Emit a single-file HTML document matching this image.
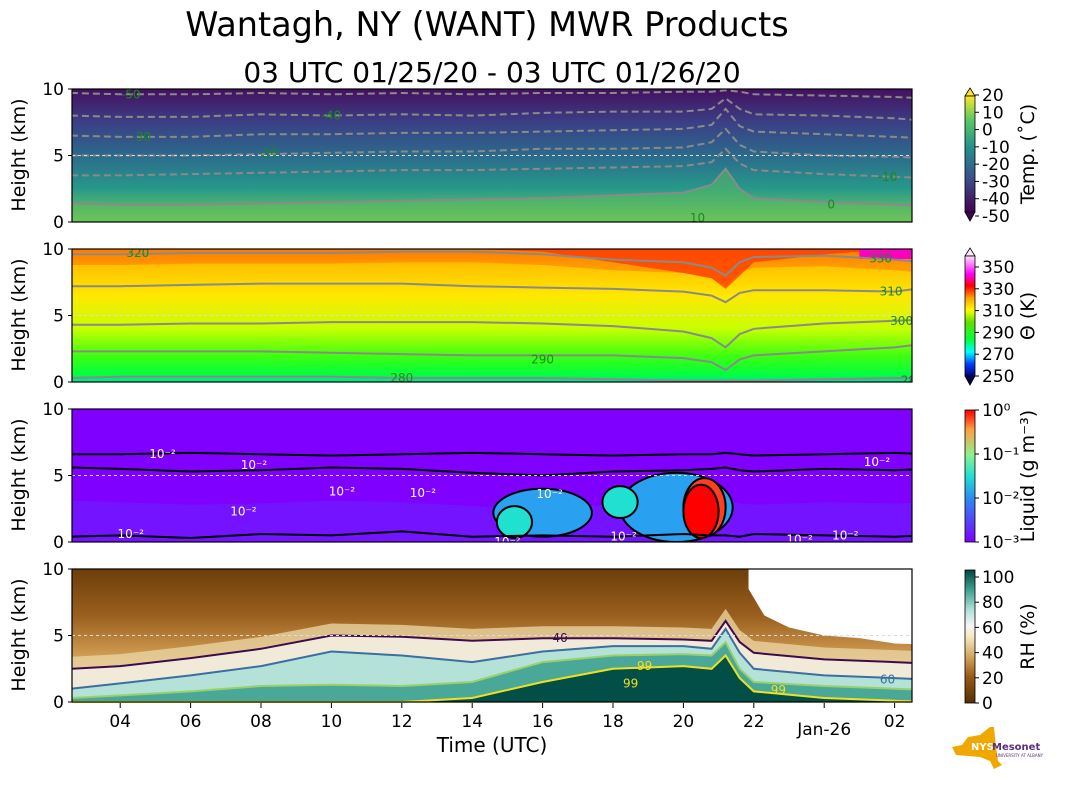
<!DOCTYPE html>
<html><head><meta charset="utf-8"><style>
body{margin:0;background:#fff;}
svg text{font-family:"DejaVu Sans","Liberation Sans",sans-serif;}
</style></head><body>
<svg id="chart" width="1066" height="806" viewBox="0 0 1066 806" xmlns="http://www.w3.org/2000/svg">
<defs>
<linearGradient id="gTemp" x1="0" y1="0" x2="0" y2="1">
<stop offset="0" stop-color="#45105f"/><stop offset="0.25" stop-color="#3b3f85"/><stop offset="0.5" stop-color="#2c6a8c"/><stop offset="0.75" stop-color="#27998a"/><stop offset="1" stop-color="#7ccc52"/></linearGradient>
<linearGradient id="gTheta" x1="0" y1="0" x2="0" y2="1">
<stop offset="0" stop-color="#ff9000"/><stop offset="0.12" stop-color="#ffc000"/><stop offset="0.35" stop-color="#ffe800"/><stop offset="0.6" stop-color="#c8ff00"/><stop offset="0.8" stop-color="#40ff10"/><stop offset="0.95" stop-color="#00ff40"/><stop offset="1" stop-color="#00e0a0"/></linearGradient>
<linearGradient id="cbTemp" x1="0" y1="1" x2="0" y2="0">
<stop offset="0" stop-color="#440154"/><stop offset="0.3" stop-color="#3b528b"/><stop offset="0.55" stop-color="#21908d"/><stop offset="0.8" stop-color="#5dc963"/><stop offset="1" stop-color="#fde725"/></linearGradient>
<linearGradient id="cbTheta" x1="0" y1="1" x2="0" y2="0">
<stop offset="0" stop-color="#000080"/><stop offset="0.1" stop-color="#0040ff"/><stop offset="0.2" stop-color="#00ffff"/><stop offset="0.3" stop-color="#00ff40"/><stop offset="0.45" stop-color="#60e000"/><stop offset="0.55" stop-color="#ffff00"/><stop offset="0.65" stop-color="#ffa000"/><stop offset="0.75" stop-color="#ff0000"/><stop offset="0.85" stop-color="#ff00ff"/><stop offset="1" stop-color="#ffe0ff"/></linearGradient>
<linearGradient id="cbLiq" x1="0" y1="1" x2="0" y2="0">
<stop offset="0" stop-color="#7f00ff"/><stop offset="0.33" stop-color="#2b8cf0"/><stop offset="0.5" stop-color="#20e0d0"/><stop offset="0.66" stop-color="#90f090"/><stop offset="0.85" stop-color="#ffa040"/><stop offset="1" stop-color="#ff0000"/></linearGradient>
<linearGradient id="cbRH" x1="0" y1="1" x2="0" y2="0">
<stop offset="0" stop-color="#543005"/><stop offset="0.2" stop-color="#9a5a14"/><stop offset="0.35" stop-color="#d2a660"/><stop offset="0.5" stop-color="#f6e8c3"/><stop offset="0.58" stop-color="#f5f5f5"/><stop offset="0.7" stop-color="#b0e0d8"/><stop offset="0.85" stop-color="#40a090"/><stop offset="1" stop-color="#01463e"/></linearGradient>
<linearGradient id="gRHtop" x1="0" y1="0" x2="0" y2="1">
<stop offset="0" stop-color="#6b3e0a"/><stop offset="0.35" stop-color="#9a5f1e"/><stop offset="0.6" stop-color="#c8924a"/><stop offset="0.85" stop-color="#e8cc90"/><stop offset="1" stop-color="#f6ecd4"/></linearGradient>
<clipPath id="c1"><rect x="72" y="89" width="840" height="133"/></clipPath>
<clipPath id="c2"><rect x="72" y="249" width="840" height="133"/></clipPath>
<clipPath id="c3"><rect x="72" y="409" width="840" height="133"/></clipPath>
<clipPath id="c4"><rect x="72" y="569" width="840" height="134"/></clipPath>
</defs>
<text x="487" y="36" font-size="33.5" text-anchor="middle">Wantagh, NY (WANT) MWR Products</text>
<text x="492" y="82" font-size="28" text-anchor="middle">03 UTC 01/25/20 - 03 UTC 01/26/20</text>
<g id="plots"></g>
</svg>
<script>
// ---- data ----
const times=[2.6,4,6,8,10,12,14,16,18,20,20.8,21.2,21.6,22,24,26,26.9];
const tempLevels=["-50","-40","-30","-20","-10","0"];
const tempM50=[9.7,9.6,9.6,9.7,9.6,9.7,9.6,9.7,9.7,9.8,9.8,9.9,9.8,9.6,9.5,9.4,9.3];
const tempM40=[8.0,7.9,7.9,8.1,8.0,8.1,8.0,8.2,8.3,8.3,8.5,9.3,8.5,8.1,8.0,7.8,7.6];
const tempM30=[6.5,6.4,6.4,6.6,6.6,6.7,6.7,6.8,6.9,7.0,7.3,8.5,7.2,6.8,6.6,6.4,6.3];
const tempM20=[5.0,5.0,5.0,5.1,5.2,5.3,5.3,5.5,5.5,5.6,6.0,7.0,5.8,5.3,5.0,4.9,4.8];
const tempM10=[3.5,3.5,3.6,3.7,3.8,3.9,3.9,4.0,4.1,4.2,4.5,5.5,4.4,3.9,3.6,3.4,3.3];
const temp0=[1.4,1.3,1.3,1.4,1.5,1.6,1.7,1.8,2.0,2.2,2.8,4.0,2.5,1.8,1.5,1.3,1.2];
const theta280=[0.3,0.4,0.4,0.4,0.4,0.3,0.3,0.3,0.2,0.1,0.1,0.1,0.1,0.1,0.2,0.3,0.3];
const theta290=[2.3,2.3,2.3,2.3,2.2,2.1,2.0,2.0,2.0,1.8,1.5,0.9,1.7,2.0,2.3,2.6,2.9];
const theta300=[4.3,4.3,4.4,4.4,4.5,4.5,4.5,4.4,4.2,3.8,3.3,2.6,3.6,4.0,4.4,4.6,4.7];
const theta310=[7.2,7.2,7.3,7.4,7.4,7.4,7.2,7.1,7.0,6.8,6.5,6.0,6.7,6.9,6.9,6.8,7.1];
const theta320=[9.6,9.6,9.7,9.7,9.7,9.8,9.8,9.6,9.2,9.0,8.6,8.0,9.0,9.4,9.5,9.2,9.0];
const thetaRed=[10,10,10,10,10,10,10,9.8,9.0,8.2,7.8,7.0,8.0,9.0,9.6,10,10];
const liqLine1=[6.6,6.6,6.7,6.6,6.5,6.6,6.7,6.6,6.5,6.6,6.6,6.7,6.6,6.5,6.6,6.7,6.6];
const liqLine2=[5.6,5.5,5.3,5.4,5.6,5.5,5.2,5.0,5.3,5.4,5.5,5.6,5.4,5.3,5.5,5.4,5.5];
const liqLine3=[0.4,0.5,0.3,0.6,0.5,0.8,0.4,0.5,0.4,0.6,0.5,0.5,0.4,0.6,0.5,0.4,0.5];
const blobT=[16.0,15.2,19.8,20.6,20.5,18.2];
const blobH=[2.2,1.5,2.6,2.6,2.3,3.0];
const blobW=[1.4,0.5,1.6,0.6,0.5,0.5];
const blobHt=[1.8,1.2,2.6,2.2,2.0,1.2];
const blobLevel=[1,2,1,3,4,2];
const rh40=[2.5,2.7,3.3,4.0,5.0,4.9,4.6,4.8,4.8,4.7,4.6,6.1,4.5,3.7,3.2,3.0,2.9];
const rh60=[1.0,1.4,2.0,2.7,3.8,3.5,3.0,3.8,4.2,4.2,4.0,5.5,3.7,2.5,2.0,1.8,1.7];
const rh80=[0.3,0.5,0.8,1.2,1.3,1.2,1.5,3.0,3.5,3.6,3.5,4.5,2.5,1.5,1.2,1.0,0.9];
const rh99=[0,0,0,0,0,0,0.3,1.5,2.5,2.7,2.5,3.5,1.8,0.8,0.3,0.1,0];
const missT=[21.85,22.3,23,24,25,26,26.95];
const missH=[8.5,6.5,5.6,5.0,4.8,4.4,4.3];
const xTicks=[4,6,8,10,12,14,16,18,20,22,24,26];
const xTickLabels=["04","06","08","10","12","14","16","18","20","22","Jan-26","02"];
const yTicks=[0,5,10];
// ---- scales ----
const NS="http://www.w3.org/2000/svg";
const X0=72,X1=912;
function px(t){return 85+(t-3)*35.2;}
const panels=[{top:89,name:"temperature"},{top:249,name:"theta"},{top:409,name:"liquid"},{top:569,name:"rh"}];
function py(h,p){return panels[p].top+133-h*13.3;}
const root=document.getElementById('plots');
function mk(tag,attrs,parent){const e=document.createElementNS(NS,tag);for(const k in attrs)e.setAttribute(k,attrs[k]);(parent||root).appendChild(e);return e;}
function linePts(arr,p){return times.map((t,i)=>px(t).toFixed(1)+","+py(arr[i],p).toFixed(1)).join(" ");}
function bandPts(upper,lower,p){let a=times.map((t,i)=>px(t)+","+py(upper[i],p));let b=times.slice().reverse().map((t,j)=>{const i=times.length-1-j;return px(t)+","+py(lower?lower[i]:0,p);});return a.concat(b).join(" ");}
const tens=times.map(()=>10);

// Panel 1
let g=mk('g',{'clip-path':'url(#c1)'});

let e=mk('rect',{x:X0,y:89,width:840,height:133,fill:'url(#gTemp)'},g);

e=mk('polygon',{points:bandPts(temp0,null,0),fill:'#5cbc60',opacity:0.5},g);

[tempM50,tempM40,tempM30,tempM20,tempM10].forEach((arr,k)=>{
 const l=mk('polyline',{points:linePts(arr,0),fill:'none',stroke:'#8a8a8a','stroke-width':2,'stroke-dasharray':'7,4'},g);
 
});
e=mk('polyline',{points:linePts(temp0,0),fill:'none',stroke:'#8a8a8a','stroke-width':2},g);

[["-50",4.3,tempM50],["-40",10,tempM40],["-30",4.6,tempM30],["-20",8.2,tempM20],["-10",25.8,tempM10],["0",24.2,temp0],["10",20.4,[0.3]]].forEach(([lab,t,arr])=>{
 const i=Math.min(arr.length-1,times.findIndex(v=>v>=t));const h=arr.length>1?arr[Math.max(0,i)]:arr[0];
 const tx=mk('text',{x:px(t),y:py(h,0)+4,'font-size':12,fill:'#1a8a1a','text-anchor':'middle'},g);tx.textContent=lab;
 
});
// Panel 2
g=mk('g',{'clip-path':'url(#c2)'});

e=mk('rect',{x:X0,y:249,width:840,height:133,fill:'url(#gTheta)'},g);

e=mk('polygon',{points:bandPts(tens,theta320.map(v=>v-0.8),1),fill:'#ff5000',opacity:0.35},g);

e=mk('polygon',{points:bandPts(tens,thetaRed,1),fill:'#ff3000',opacity:0.7},g);

e=mk('rect',{x:px(25),y:249,width:100,height:10,fill:'#ff00c0'},g);

[[theta280,"280"],[theta290,"290"],[theta300,"300"],[theta310,"310"],[theta320,"320"]].forEach(([arr,lab])=>{
 const l=mk('polyline',{points:linePts(arr,1),fill:'none',stroke:'#8a8a8a','stroke-width':2},g);
 
});
[["320",4.5,9.7],["330",25.6,9.3],["310",25.9,6.8],["300",26.2,4.6],["290",16,1.7],["280",12,0.3],["280",26.5,0.1]].forEach(([lab,t,h])=>{
 const tx=mk('text',{x:px(t),y:py(h,1)+4,'font-size':12,fill:'#1a8a1a','text-anchor':'middle'},g);tx.textContent=lab;
 
});
// Panel 3
g=mk('g',{'clip-path':'url(#c3)'});

e=mk('rect',{x:X0,y:409,width:840,height:133,fill:'#7f00ff'},g);

e=mk('polygon',{points:bandPts(liqLine2.map(v=>v-2.5),null,2),fill:'#6a20ff',opacity:0.6},g);

const lvlColor=["#7f00ff","#2aa0f0","#20e0d0","#ff4020","#ff0000"];
blobT.forEach((t,i)=>{
 const cx=px(t),cy=py(blobH[i],2),rx=blobW[i]*35.2,ry=blobHt[i]*13.3;
 const b=mk('ellipse',{cx:cx,cy:cy,rx:rx,ry:ry,fill:lvlColor[blobLevel[i]],stroke:'#000','stroke-width':2},g);
 
});
[liqLine1,liqLine2,liqLine3].forEach((arr,k)=>{
 const l=mk('polyline',{points:linePts(arr,2),fill:'none',stroke:'#000','stroke-width':2},g);
 
});
[[5.2,6.6],[7.8,5.8],[10.3,3.8],[12.6,3.7],[7.5,2.3],[4.3,0.6],[16.2,3.6],[25.5,6.0],[23.3,0.2],[24.6,0.5],[18.3,0.4],[15,0]].forEach(([t,h])=>{
 const tx=mk('text',{x:px(t),y:py(h,2)+4,'font-size':12,fill:'#fff','text-anchor':'middle'},g);tx.textContent="10⁻²";
 
});
// Panel 4
g=mk('g',{'clip-path':'url(#c4)'});

e=mk('rect',{x:X0,y:569,width:840,height:134,fill:'url(#gRHtop)'},g);

[[rh40,'#f2ead8'],[rh60,'#b4e2d8'],[rh80,'#4aa898'],[rh99,'#014f47']].forEach(([arr,c],k)=>{
 const b=mk('polygon',{points:bandPts(arr,null,3),fill:c},g);
 
});
e=mk('polygon',{points:bandPts(rh40.map(v=>v+0.9),rh40,3),fill:'#e8d2a0',opacity:0.8},g);

[[rh40,'#3d0a4e'],[rh60,'#3a6fa0'],[rh80,'#9ad06a'],[rh99,'#f0e020']].forEach(([arr,c])=>{
 const l=mk('polyline',{points:linePts(arr,3),fill:'none',stroke:c,'stroke-width':2},g);
 
});
let mp=missT.map((t,i)=>px(t)+","+py(missH[i],3));
mp=[px(missT[0])+","+py(10,3)].concat(mp).concat([px(missT[missT.length-1])+","+py(10,3)]);
e=mk('polygon',{points:mp.join(" "),fill:'#fff'},g);

[["40",16.5,4.8,'#3d0a4e'],["99",18.9,2.7,'#f0e020'],["99",18.5,1.4,'#f0e020'],["99",22.7,0.9,'#f0e020'],["60",25.8,1.7,'#3a6fa0']].forEach(([lab,t,h,c])=>{
 const tx=mk('text',{x:px(t),y:py(h,3)+4,'font-size':12,fill:c,'text-anchor':'middle'},g);tx.textContent=lab;
 
});
// frames, y axes, 5km reference lines
panels.forEach((p,i)=>{
 let l=mk('line',{x1:X0,x2:X1,y1:py(5,i),y2:py(5,i),stroke:'#ddd','stroke-width':1,'stroke-dasharray':'3,3'});
 
 let r=mk('rect',{x:X0,y:p.top,width:840,height:133,fill:'none',stroke:'#000','stroke-width':1.2});
 
 yTicks.forEach(v=>{
  const y=py(v,i);
  const tk=mk('line',{x1:X0-4,x2:X0,y1:y,y2:y,stroke:'#000'});
  
  const tx=mk('text',{x:X0-8,y:y+6,'font-size':17,'text-anchor':'end'});tx.textContent=v;
  
 });
 const yt=mk('text',{x:25,y:p.top+66,'font-size':19,'text-anchor':'middle',transform:'rotate(-90 25 '+(p.top+66)+')'});
 yt.textContent='Height (km)';
 
});
xTicks.forEach((t,i)=>{
 const x=px(t);
 const tk=mk('line',{x1:x,x2:x,y1:703,y2:708,stroke:'#000'});
 
 const tx=mk('text',{x:x,y:i==10?735:727,'font-size':17,'text-anchor':'middle'});tx.textContent=xTickLabels[i];
 
});
let xt=mk('text',{x:492,y:752,'font-size':20,'text-anchor':'middle'});xt.textContent='Time (UTC)';

// colorbars
const cbs=[
 {top:90,bot:218,grad:'cbTemp',ext:[ '#fde725','#440154'],ticks:["20","10","0","-10","-20","-30","-40","-50"],t0:95,t1:216,label:'Temp. (˚C)',name:'temperature-colorbar'},
 {top:250,bot:382,grad:'cbTheta',ext:['#ffe8ff','#000050'],ticks:["350","330","310","290","270","250"],t0:267,t1:376,label:'Θ (K)',name:'theta-colorbar'},
 {top:410,bot:542,grad:'cbLiq',ext:null,ticks:["10⁰","10⁻¹","10⁻²","10⁻³"],t0:410,t1:542,label:'Liquid (g m⁻³)',name:'liquid-colorbar'},
 {top:570,bot:703,grad:'cbRH',ext:null,ticks:["100","80","60","40","20","0"],t0:577,t1:703,label:'RH (%)',name:'rh-colorbar'}];
cbs.forEach(c=>{
 const gg=mk('g',{});
 
 const x0=965,w=10;
 if(c.ext){
  mk('polygon',{points:`${x0},${c.top+6} ${x0+w/2},${c.top-2} ${x0+w},${c.top+6}`,fill:c.ext[0],stroke:'#000','stroke-width':0.8},gg);
  mk('polygon',{points:`${x0},${c.bot-6} ${x0+w/2},${c.bot+3} ${x0+w},${c.bot-6}`,fill:c.ext[1],stroke:'#000','stroke-width':0.8},gg);
 }
 const t=c.ext?c.top+6:c.top,b=c.ext?c.bot-6:c.bot;
 mk('rect',{x:x0,y:t,width:w,height:b-t,fill:'url(#'+c.grad+')',stroke:'#000','stroke-width':0.8},gg);
 c.ticks.forEach((lab,i)=>{
  const y=c.t0+(c.t1-c.t0)*i/(c.ticks.length-1);
  mk('line',{x1:x0+w,x2:x0+w+4,y1:y,y2:y,stroke:'#000'},gg);
  const tx=mk('text',{x:x0+w+7,y:y+6,'font-size':17},gg);tx.textContent=lab;
  
 });
 const cy=(c.top+c.bot)/2;
 const lt=mk('text',{x:1034,y:cy,'font-size':19,'text-anchor':'middle',transform:`rotate(-90 1034 ${cy})`},gg);lt.textContent=c.label;
 
});
</script>
<svg style="position:absolute;left:950px;top:725px" width="100" height="50">
<polygon points="2,22 12,20 18,12 30,10 40,2 44,2 46,22 48,36 52,40 44,44 40,36 30,32 6,30" fill="#f0a800"/>
<text x="21" y="25" font-size="10" font-weight="bold" fill="#fff" font-family="Liberation Sans">NYS</text>
<text x="42" y="25" font-size="10" font-weight="bold" fill="#5a2d82" font-family="Liberation Sans">Mesonet</text>
<text x="46" y="32" font-size="4" fill="#5a2d82" font-family="Liberation Sans">UNIVERSITY AT ALBANY</text>
</svg>
</body></html>
